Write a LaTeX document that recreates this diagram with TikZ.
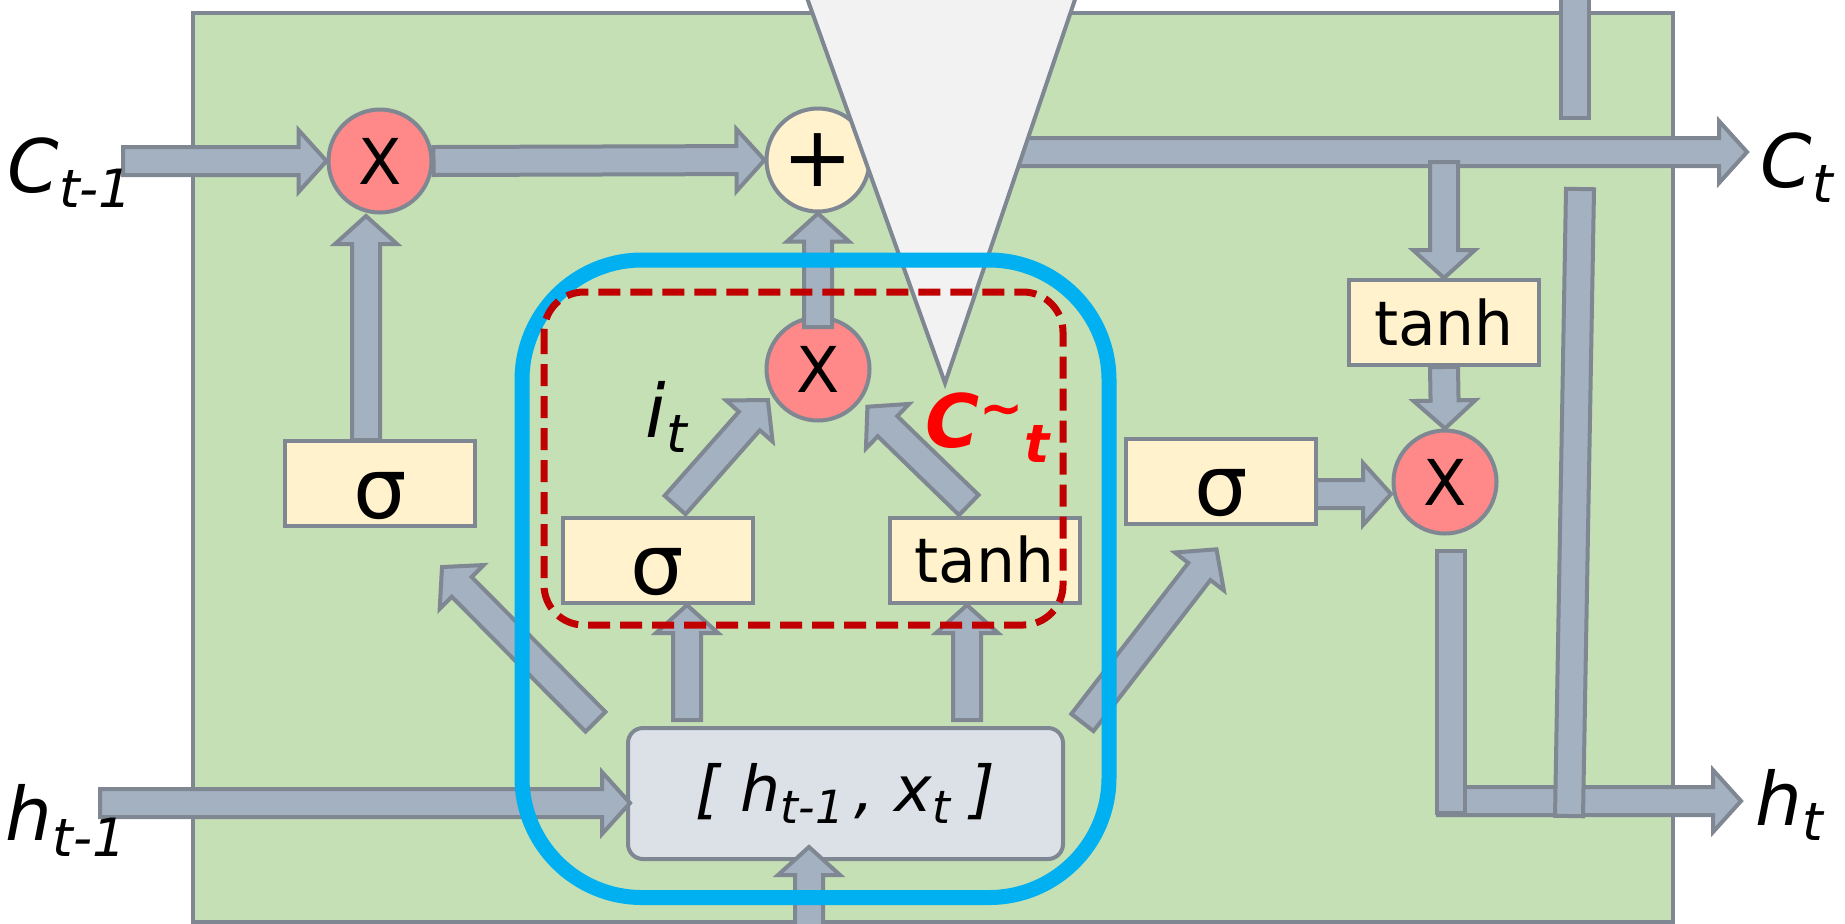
\documentclass[tikz,border=0pt]{standalone}
\usepackage{fontspec}
\setmainfont{DejaVu Sans}
\usetikzlibrary{calc, positioning}

\definecolor{cellgreen}{HTML}{C5E0B4}
\definecolor{edgegray}{HTML}{7E8792}
\definecolor{pipefill}{HTML}{A3B1C0}
\definecolor{opred}{HTML}{FF8888}
\definecolor{gatecream}{HTML}{FFF2CC}
\definecolor{concatgray}{HTML}{DCE0E7}
\definecolor{funnelgray}{HTML}{F2F2F2}
\definecolor{frameblue}{HTML}{00B0F0}
\definecolor{framered}{HTML}{C00000}

\begin{document}
\begin{tikzpicture}[
        gate/.style={draw=edgegray, line width=0.04cm, fill=gatecream, minimum width=1.9cm, minimum height=0.85cm, inner sep=0pt},
        sig/.style={gate, font=\fontsize{24}{26}\selectfont, text height=19.7pt, text depth=0pt},
        tnh/.style={gate, font=\fontsize{17.5}{20}\selectfont},
        op/.style={circle, draw=edgegray, line width=0.04cm, fill=opred, minimum size=1.03cm, inner sep=0pt, font=\fontsize{18}{20}\selectfont},
        var/.style={font=\fontsize{21}{24}\selectfont\itshape, inner sep=0pt, anchor=base west},
        fat/.style={draw=edgegray, fill=pipefill, line width=0.04cm, line join=miter,
            to path={($(\tikztostart)!0.14cm!90:(\tikztotarget)$)
                -- ($(\tikztotarget)!0.28cm!(\tikztostart)!0.14cm!-90:(\tikztostart)$)
                -- ($(\tikztotarget)!0.28cm!(\tikztostart)!0.31cm!-90:(\tikztostart)$)
                -- (\tikztotarget)
                -- ($(\tikztotarget)!0.28cm!(\tikztostart)!0.31cm!90:(\tikztostart)$)
                -- ($(\tikztotarget)!0.28cm!(\tikztostart)!0.14cm!90:(\tikztostart)$)
                -- ($(\tikztostart)!0.14cm!-90:(\tikztotarget)$) -- cycle}},
        bar/.style={draw=edgegray, fill=pipefill, line width=0.04cm, line join=miter,
            to path={($(\tikztostart)!0.14cm!90:(\tikztotarget)$)
                -- ($(\tikztotarget)!0.14cm!-90:(\tikztostart)$)
                -- ($(\tikztotarget)!0.14cm!90:(\tikztostart)$)
                -- ($(\tikztostart)!0.14cm!-90:(\tikztotarget)$) -- cycle}}
    ]
    \useasboundingbox (0,0) rectangle (18.45,-9.23);
    \clip (0,0) rectangle (18.45,-9.23);

    % ================= Cell body =================
    \fill[cellgreen, draw=edgegray, line width=0.04cm] (1.93,-0.13) rectangle (16.73,-9.22);

    % Pointwise operations
    \node[op] (X1) at (3.80,-1.61) {X};
    \node[op, fill=gatecream, font=\fontsize{24}{26}\selectfont] (plus) at (8.18,-1.60) {+};
    \node[op] (X2) at (8.18,-3.69) {X};
    \node[op] (X3) at (14.45,-4.82) {X};

    % Gates
    \node[sig] (fsig) at (3.80,-4.835) {σ};
    \node[sig] (isig) at (6.575,-5.60) {σ};
    \node[tnh] (ctanh) at (9.845,-5.60) {tanh};
    \node[sig] (osig) at (12.21,-4.81) {σ};
    \node[tnh] (otanh) at (14.44,-3.225) {tanh};

    % Concatenation
    \node[draw=edgegray, line width=0.04cm, fill=concatgray, rounded corners=0.15cm, minimum width=4.35cm, minimum height=1.31cm, font=\fontsize{18}{22}\selectfont\itshape] (concat) at (8.455,-7.935)
        {[ h\raisebox{-3.4pt}{\fontsize{13}{15}\selectfont t-1}\,, x\raisebox{-3.4pt}{\fontsize{13}{15}\selectfont t} ]};

    % ================= Cell state path =================
    \coordinate (c_in) at (1.23,-1.61);
    \draw[fat] (c_in) to (X1.west);
    \draw[fat] (X1.east) to (plus.west);
    \coordinate (f_top) at (3.66,-4.40);
    \coordinate (f_tip) at (3.66,-2.16);
    \draw[fat] (f_top) to (f_tip);
    \coordinate (p_from) at (8.18,-3.27);
    \draw[fat] (p_from) to (plus.south);
    \coordinate (c_from) at (8.71,-1.52);
    \coordinate (c_out) at (17.47,-1.52);
    \draw[fat] (c_from) to (c_out);

    % Output path
    \coordinate (c_tap) at (14.44,-1.62);
    \draw[fat] (c_tap) to (otanh.north);
    \draw[fat] (otanh.south) to (X3.north);
    \coordinate (o_from) at (13.16,-4.94);
    \coordinate (o_tip) at (13.91,-4.94);
    \draw[fat] (o_from) to (o_tip);
    \coordinate (h_from) at (14.38,-8.01);
    \coordinate (h_out) at (17.41,-8.01);
    \draw[fat] (h_from) to (h_out);
    \coordinate (h_drop) at (14.51,-5.51);
    \coordinate (h_turn) at (14.51,-8.13);
    \draw[bar] (h_drop) to (h_turn);
    \coordinate (r_top) at (15.80,-1.89);
    \coordinate (r_bot) at (15.69,-8.16);
    \draw[bar] (r_top) to (r_bot);
    \coordinate (t_top) at (15.75,0.30);
    \coordinate (t_bot) at (15.75,-1.18);
    \draw[bar] (t_top) to (t_bot);

    % Inputs
    \coordinate (h_in) at (1.00,-8.03);
    \coordinate (h_tip) at (6.30,-8.03);
    \draw[fat] (h_in) to (h_tip);
    \coordinate (x_in) at (8.09,-9.50);
    \coordinate (x_tip) at (8.09,-8.47);
    \draw[fat] (x_in) to (x_tip);

    % From concatenation to gates
    \coordinate (i_from) at (6.87,-7.20);
    \coordinate (i_tip) at (6.87,-6.05);
    \draw[fat] (i_from) to (i_tip);
    \coordinate (g_from) at (9.67,-7.20);
    \coordinate (g_tip) at (9.67,-6.05);
    \draw[fat] (g_from) to (g_tip);
    \coordinate (f_from) at (5.955,-7.217);
    \coordinate (f_end) at (4.42,-5.67);
    \draw[fat] (f_from) to (f_end);
    \coordinate (o_start) at (10.824,-7.225);
    \coordinate (o_end) at (12.165,-5.493);
    \draw[fat] (o_start) to (o_end);

    % Into the input product
    \coordinate (it_from) at (6.751,-5.05);
    \coordinate (it_tip) at (7.679,-4.00);
    \draw[fat] (it_from) to (it_tip);
    \coordinate (ct_from) at (9.688,-5.05);
    \coordinate (ct_tip) at (8.674,-4.067);
    \draw[fat] (ct_from) to (ct_tip);

    % ================= Funnel and frames =================
    \draw[draw=edgegray, line width=0.04cm, fill=funnelgray] (7.97,0.30) -- (9.45,-3.83) -- (10.85,0.30) -- cycle;
    \draw[frameblue, line width=0.15cm, rounded corners=1.2cm] (5.22,-2.60) rectangle (11.09,-8.975);
    \draw[framered, line width=0.07cm, dash pattern=on 0.22cm off 0.10cm, rounded corners=0.4cm] (5.44,-2.92) rectangle (10.63,-6.25);

    % ================= Labels =================
    \node[var] (lbl_cprev) at (0.07,-1.92) {C\raisebox{-4.5pt}{\fontsize{15}{18}\selectfont t-1}};
    \node[var] (lbl_hprev) at (0.05,-8.40) {h\raisebox{-4.7pt}{\fontsize{15}{18}\selectfont t-1}};
    \node[var] (lbl_cnext) at (17.60,-1.87) {C\raisebox{-4.5pt}{\fontsize{15}{18}\selectfont t}};
    \node[var] (lbl_hnext) at (17.55,-8.25) {h\raisebox{-4.5pt}{\fontsize{15}{18}\selectfont t}};
    \node[var] (lbl_it) at (6.45,-4.37) {i\raisebox{-4.5pt}{\fontsize{15}{18}\selectfont t}};
    \node[var, text=red, font=\fontsize{21}{24}\selectfont\bfseries\itshape] (lbl_ctilde) at (9.25,-4.47)
        {C\raisebox{5.7pt}{\fontsize{15}{18}\selectfont\textasciitilde}\raisebox{-4.5pt}{\fontsize{15}{18}\selectfont t}};

\end{tikzpicture}
\end{document}
